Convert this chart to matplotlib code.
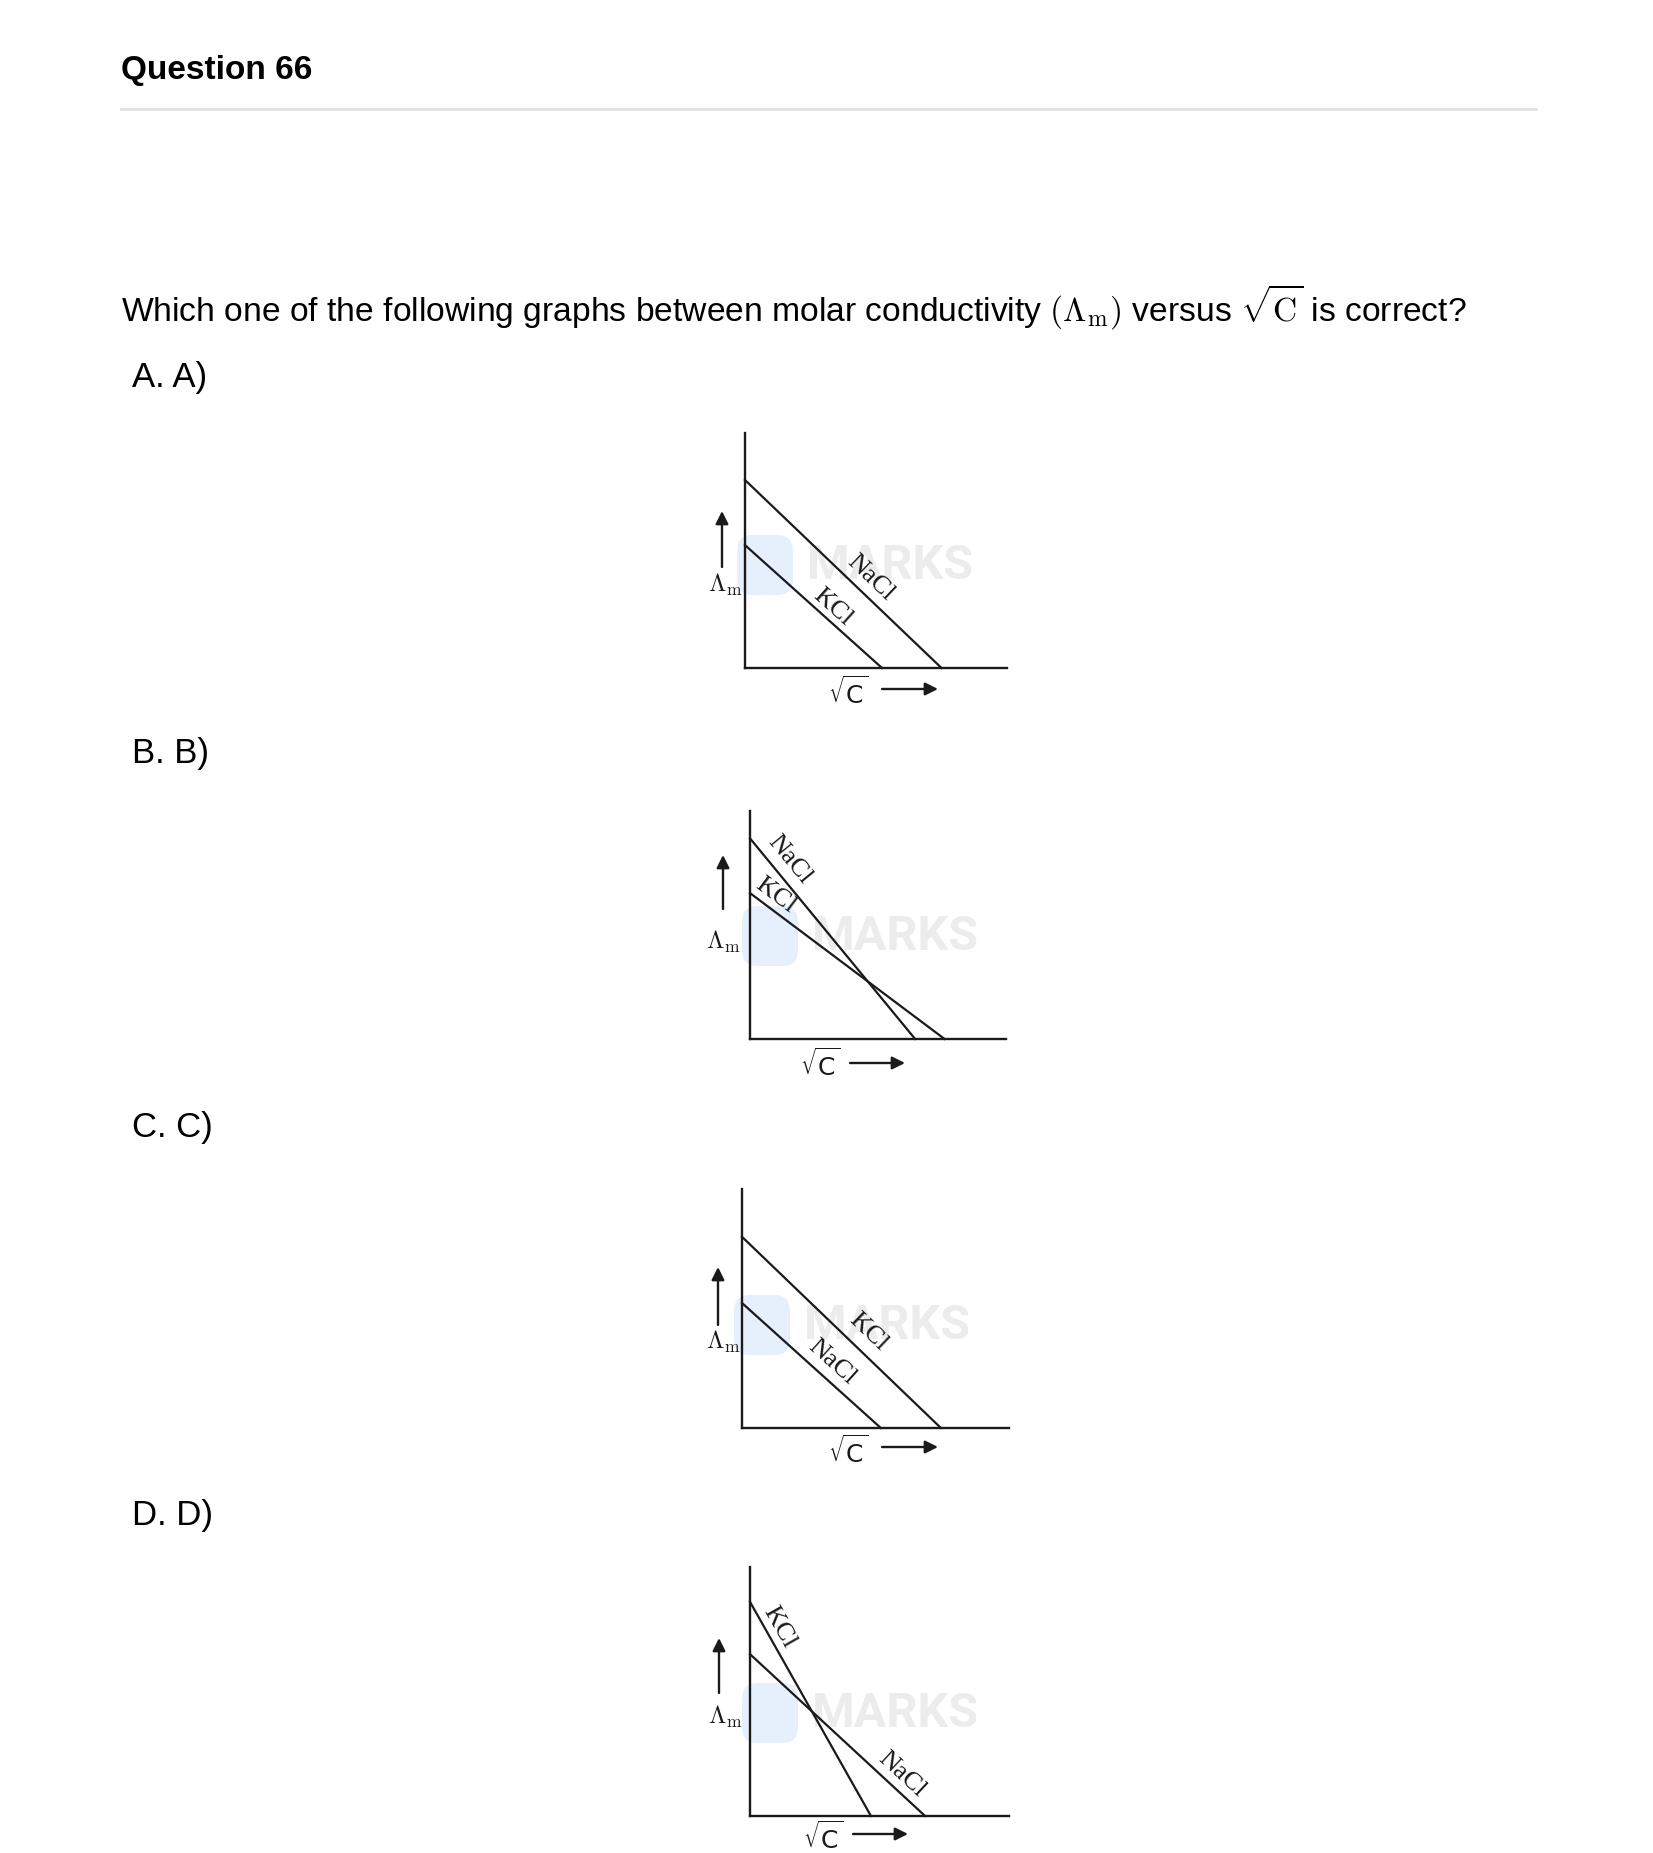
import numpy as np
import matplotlib
matplotlib.use('Agg')
import matplotlib.pyplot as plt
from matplotlib.patches import FancyBboxPatch
from matplotlib.transforms import IdentityTransform

# page size in pixels
W, H = 1653, 1853

plt.rcParams['font.family'] = ['Liberation Sans', 'DejaVu Sans']
plt.rcParams['mathtext.fontset'] = 'cm'

# ---- data: each graph = two straight lines (y intercept, x intercept), axes units 0..1
graphs = ["A", "B", "C", "D"]
nacl_y0 = [0.80, 0.88, 0.523, 0.65]
nacl_x0 = [0.75, 0.645, 0.52, 0.676]
kcl_y0 = [0.523, 0.64, 0.80, 0.86]
kcl_x0 = [0.523, 0.76, 0.745, 0.467]
# where the name sits along each line (fraction of the way to the x intercept)
nacl_t = [0.58, 0.16, 0.57, 0.81]
kcl_t = [0.58, 0.09, 0.57, 0.15]

option_labels = ["A. A)", "B. B)", "C. C)", "D. D)"]

# ---- layout (pixels on the page)
ink = '#1a1a1a'
axes_px = [(745, 433, 1007, 668), (750, 811, 1006, 1039),
           (742, 1189, 1009, 1428), (750, 1567, 1009, 1816)]   # left, top, right, bottom
option_y = [378, 754, 1128, 1516]
# offsets from the axis origin, px (x right, y up)
up_arrow = [(-23, 101, 157), (-27, 130, 184), (-24, 103, 161), (-31, 123, 178)]
lam_pos = [(-20, 83), (-27, 97), (-19, 86), (-25, 99)]
sqrt_pos = [(103, -25), (70, -26), (106, -24), (73, -22)]
right_arrow = [(137, 193, -21), (100, 155, -24), (140, 196, -19), (103, 158, -18)]
nacl_off = [16, 17, 16, 15]
kcl_off = [12, 13, 19, 13]


def fx(px):
    return px / W


def fy(py):
    return 1 - py / H


fig = plt.figure(figsize=(W / 100, H / 100), dpi=100)

fig.text(fx(121), fy(71), "Question 66", fontsize=24, fontweight='bold', va='center')
fig.add_artist(plt.Line2D([fx(121), fx(1536)], [fy(109), fy(109)], color='#e2e2e2', lw=2))

question = (r"Which one of the following graphs between molar conductivity "
            r"$(\Lambda_{\mathrm{m}})$ versus $\sqrt{\mathrm{C}}$ is correct?")
fig.text(fx(121), fy(307), question, fontsize=24.2, va='center')

for lab, yy in zip(option_labels, option_y):
    fig.text(fx(132), fy(yy), lab, fontsize=25, va='center')


def line_label(ax, name, x0, y0, t, off):
    p = ax.transData.transform([t * x0, y0 * (1 - t)])
    d = ax.transData.transform([x0, 0]) - ax.transData.transform([0, y0])
    ang = np.degrees(np.arctan2(d[1], d[0]))
    n = np.array([-d[1], d[0]]) / np.hypot(d[0], d[1])
    pos = p + n * off
    ax.text(pos[0], pos[1], name, transform=IdentityTransform(), rotation=ang,
            rotation_mode='anchor', ha='center', va='center',
            family='Liberation Serif', fontsize=19, color=ink)


for i, g in enumerate(graphs):
    l, t, r, b = axes_px[i]
    aw, ah = r - l, b - t
    ax = fig.add_axes([fx(l), fy(b), aw / W, ah / H])
    ax.set_xlim(0, 1)
    ax.set_ylim(0, 1)
    ax.patch.set_alpha(0)
    ax.set_xticks([])
    ax.set_yticks([])
    for s in ['top', 'right']:
        ax.spines[s].set_visible(False)
    for s in ['left', 'bottom']:
        ax.spines[s].set_linewidth(1.7)
        ax.spines[s].set_color(ink)

    # watermark behind the graph
    fig.patches.append(FancyBboxPatch((fx(l - 8), fy(b - 73)), 56 / W, 60 / H,
                                      boxstyle="round,pad=0,rounding_size=0.009",
                                      transform=fig.transFigure, fc='#e6f0fd', ec='none', zorder=-2))
    fig.text(fx(l + 62), fy(b - 102), "MARKS", fontsize=35, fontweight='bold',
             family='Roboto', color='#ececec', va='center', zorder=-1)

    ax.plot([0, nacl_x0[i]], [nacl_y0[i], 0], color=ink, lw=1.6, clip_on=False)
    ax.plot([0, kcl_x0[i]], [kcl_y0[i], 0], color=ink, lw=1.6, clip_on=False)
    line_label(ax, "NaCl", nacl_x0[i], nacl_y0[i], nacl_t[i], nacl_off[i])
    line_label(ax, "KCl", kcl_x0[i], kcl_y0[i], kcl_t[i], kcl_off[i])

    ux, uy0, uy1 = up_arrow[i]
    ax.annotate("", xy=(ux / aw, uy1 / ah), xytext=(ux / aw, uy0 / ah),
                xycoords='axes fraction', annotation_clip=False,
                arrowprops=dict(arrowstyle='-|>', color=ink, lw=1.7, mutation_scale=19,
                                shrinkA=0, shrinkB=0))
    lx, ly = lam_pos[i]
    ax.text(lx / aw, ly / ah, r"$\Lambda_{\mathrm{m}}$", transform=ax.transAxes,
            ha='center', va='center', fontsize=18, color=ink)

    sx, sy = sqrt_pos[i]
    ax.text(sx / aw, sy / ah, r"$\sqrt{\mathrm{C}}$", transform=ax.transAxes,
            ha='center', va='center', fontsize=18, color=ink, math_fontfamily='dejavusans')
    rx0, rx1, ry = right_arrow[i]
    ax.annotate("", xy=(rx1 / aw, ry / ah), xytext=(rx0 / aw, ry / ah),
                xycoords='axes fraction', annotation_clip=False,
                arrowprops=dict(arrowstyle='-|>', color=ink, lw=1.7, mutation_scale=19,
                                shrinkA=0, shrinkB=0))

fig.savefig('out.png', dpi=100, facecolor='white')
